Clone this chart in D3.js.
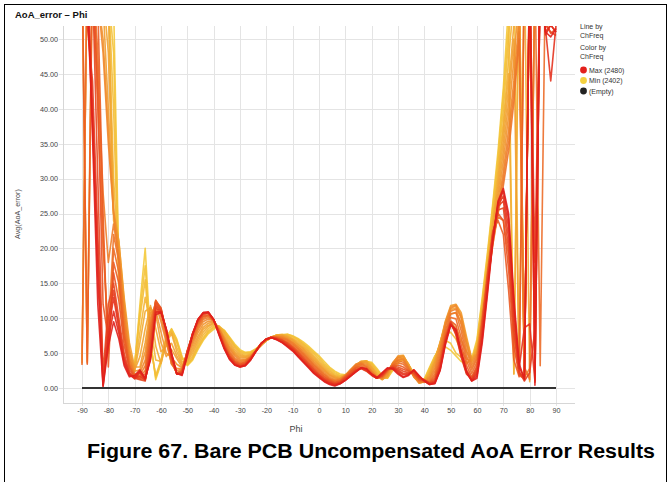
<!DOCTYPE html>
<html>
<head>
<meta charset="utf-8">
<script src="https://cdn.jsdelivr.net/npm/d3@7/dist/d3.min.js"></script>
<style>
  html, body { margin: 0; padding: 0; background: #fff; }
  svg { display: block; font-family: "Liberation Sans", Arial, sans-serif; }
</style>
</head>
<body>
<svg id="chart" width="669" height="482"></svg>
<script>
// Phi sample angles (degrees), -90 .. 90
const phi = [-90,-88,-86,-84,-82,-80,-78,-76,-74,-72,
  -70,-68,-66,-64,-62,-60,-58,-56,-54,-52,
  -50,-48,-46,-44,-42,-40,-38,-36,-34,-32,
  -30,-28,-26,-24,-22,-20,-18,-16,-14,-12,
  -10,-8,-6,-4,-2,0,2,4,6,8,
  10,12,14,16,18,20,22,24,26,28,
  30,32,34,36,38,40,42,44,46,48,
  50,52,54,56,58,60,62,64,66,68,
  70,72,74,76,78,80,82,84,86,88,
  90];

// Avg(AoA_error) per channel frequency (MHz)
const ch2402 = [60,58,62,64,60,58,55,17,9,3.5,
  3,12,20,7,1.2,3.5,7,8.5,7,4.5,
  3.2,4,5.5,6.8,7.8,8.4,8.8,8.3,7.3,6.3,
  5.5,5.1,5.2,5.6,6.2,6.8,7.2,7.5,7.6,7.7,
  7.5,7.1,6.6,6.0,5.3,4.6,3.8,3.0,2.4,2.0,
  1.9,2.1,2.8,3.4,3.8,3.7,2.8,1.8,1.4,2.5,
  3.6,4.0,3.3,2.2,1.2,1.3,3.0,4.6,5.6,5.9,
  5.4,4.6,3.8,3.5,4.2,7.0,13,19.5,26.5,34,
  43,55,61,60,2.2,60,62,60,61,60,
  61];
const ch2406 = [61,60,63,62,59,57,48,16,8,3.2,
  3.4,11,17.5,6.5,1.5,3.8,7.3,8.4,6.8,4.3,
  3.3,4.2,5.7,7.0,8.0,8.6,8.8,8.2,7.2,6.1,
  5.3,5.0,5.1,5.6,6.2,6.9,7.2,7.6,7.6,7.7,
  7.4,7.0,6.4,5.8,5.1,4.4,3.5,2.8,2.2,1.8,
  1.8,2.3,2.9,3.6,3.8,3.5,2.6,1.6,1.5,2.7,
  3.8,4.1,3.3,2.1,1.1,1.2,2.8,4.5,6.0,6.8,
  6.4,5.0,4.4,3.6,4.0,6.6,12.5,19,26,33,
  42,52,2.0,61,60,62,61,60,62,61,
  60];
const ch2410 = [62,60,63,62,58,57,40,14,7,3,
  3.5,10,15.5,6,1.8,4,7.5,8.2,6.5,4.2,
  3.4,4.3,5.9,7.2,8.2,8.8,8.9,8.2,7.1,6.0,
  5.2,4.8,5.0,5.5,6.2,6.9,7.3,7.6,7.7,7.6,
  7.3,6.9,6.3,5.6,4.9,4.1,3.3,2.6,2.0,1.7,
  1.8,2.3,3.0,3.6,3.9,3.4,2.4,1.5,1.4,2.8,
  3.9,4.3,3.4,2.0,1.0,1.1,2.6,4.4,6.2,7.6,
  8.0,7.0,5.4,4.2,3.8,6.2,12,18.5,25,32,
  40,50,62,2.6,61,62,60,62,61,60,
  62];
const ch2414 = [4.0,61,64,62,59,55,30,17,9,4,
  2.8,8,13,9,4,3.8,7,8,5.8,3.8,
  3.6,4.6,6.2,7.6,8.5,9.0,8.8,8.0,6.9,5.8,
  5.0,4.6,4.9,5.4,6.2,6.8,7.3,7.6,7.6,7.5,
  7.1,6.7,6.1,5.4,4.6,3.8,3.1,2.4,1.8,1.6,
  1.9,2.4,3.1,3.8,3.9,3.2,2.2,1.4,1.5,3.0,
  4.1,4.4,3.4,1.9,0.9,1.0,2.4,4.2,6.4,8.6,
  9.4,8.6,6.8,5.2,4.0,6.0,11.5,18,24,31,
  38,47,56,61,1.4,60,62,61,60,62,
  61];
const ch2420 = [60,3.8,65,63,60,56,24,20,12,5,
  2.5,6.5,11,11.5,6,3.5,6.5,7.8,5.2,3.5,
  3.8,5.0,6.6,8.0,8.8,9.2,8.8,7.8,6.6,5.5,
  4.8,4.5,4.8,5.4,6.1,6.8,7.3,7.6,7.6,7.4,
  7.0,6.5,5.9,5.2,4.4,3.6,2.9,2.2,1.7,1.5,
  1.8,2.5,3.2,3.8,3.9,3.0,2.0,1.3,1.6,3.2,
  4.3,4.6,3.4,1.8,0.8,1.0,2.2,4.0,6.6,9.0,
  10.6,10.8,9.4,6.6,4.0,5.6,11,17.5,23.5,30,
  37,45,2.0,60,62,0.9,60,61,60,62,
  61];
const ch2424 = [61,62,64,60,57,48,25,21,12.5,5.5,
  2.6,4.5,8.5,11.8,8.5,5.2,6.0,6.4,4.6,3.3,
  4.0,5.4,7.0,8.4,9.0,9.3,8.7,7.5,6.3,5.2,
  4.6,4.4,4.7,5.4,6.1,6.8,7.3,7.5,7.5,7.3,
  6.9,6.3,5.7,5.0,4.2,3.4,2.7,2.0,1.6,1.4,
  1.8,2.6,3.3,3.8,3.8,2.9,1.9,1.2,1.7,3.4,
  4.4,4.6,3.3,1.7,0.7,0.9,2.0,3.8,6.5,9.4,
  11.2,11.5,10.2,7.0,4.1,5.3,10.8,17,22.8,29,
  35.5,43,52,60,2.8,61,60,62,60,61,
  60];
const ch2428 = [62,60,62,58,55,40,25.5,21,13,6.5,
  3.0,3.0,6.5,11.5,10.5,6.5,4.5,5.5,4.2,3.0,
  4.3,5.8,7.4,8.7,9.3,9.4,8.6,7.3,6.0,5.0,
  4.4,4.3,4.6,5.3,6.1,6.8,7.3,7.5,7.5,7.2,
  6.8,6.2,5.6,4.8,4.0,3.3,2.6,1.9,1.5,1.4,
  1.8,2.6,3.3,3.8,3.7,2.7,1.7,1.2,1.8,3.5,
  4.6,4.7,3.3,1.7,0.7,0.9,1.8,3.6,6.4,9.6,
  11.8,12.0,10.8,7.4,4.2,5.0,10.5,16.5,22,28,
  34,41,50,1.8,60,62,60,61,60,62,
  60];
const ch2432 = [3.5,61,60,56,50,37,25,20,12,5.5,
  2.4,2.6,5.2,10.8,11.2,8.0,5.0,4.4,3.4,2.9,
  4.6,6.2,7.9,9.1,9.6,9.5,8.5,7.1,5.8,4.8,
  4.2,4.1,4.5,5.3,6.1,6.8,7.3,7.4,7.4,7.1,
  6.6,6.0,5.4,4.6,3.8,3.1,2.4,1.8,1.4,1.3,
  1.8,2.6,3.4,3.7,3.5,2.5,1.6,1.3,2.0,3.6,
  4.5,4.5,3.1,1.6,0.8,0.9,1.6,3.2,6.0,9.4,
  11.6,11.9,10.4,6.8,3.8,4.9,10.2,16,21.5,27,
  32.5,39,47,56,2.0,60,62,60,61,60,
  62];
const ch2438 = [61,3.6,60,56,48,35,25,19,11,4.5,
  2.0,2.2,4.0,10,12,9.5,6.5,3.5,2.8,2.8,
  4.8,6.6,8.3,9.5,9.9,9.6,8.5,7.0,5.6,4.6,
  4.0,4.0,4.5,5.3,6.2,6.9,7.3,7.4,7.3,7.0,
  6.5,5.9,5.2,4.4,3.6,2.9,2.2,1.6,1.2,1.3,
  1.8,2.6,3.4,3.6,3.3,2.4,1.6,1.4,2.2,3.6,
  4.4,4.2,3.0,1.6,0.8,0.9,1.4,2.8,5.6,9.2,
  11.4,11.8,10.0,6.2,3.4,4.8,10,15.5,21,26,
  31,37,44,53,2.4,60,62,60,61,60,
  62];
const ch2442 = [60,62,59,45,28,18,23.5,18.5,10,4,
  1.9,1.8,3.2,9.2,12.4,10.2,7.0,3.4,2.5,2.7,
  5.0,6.9,8.6,9.8,10.1,9.7,8.4,6.8,5.3,4.3,
  3.8,3.9,4.4,5.3,6.2,7.0,7.3,7.3,7.2,6.9,
  6.4,5.7,5.0,4.2,3.4,2.7,2.0,1.4,1.1,1.2,
  1.7,2.5,3.3,3.5,3.1,2.3,1.5,1.5,2.3,3.5,
  4.1,4.0,2.9,1.7,0.9,0.8,1.2,2.4,5.1,8.8,
  11.0,11.3,9.1,5.4,3.0,4.5,9.8,15.2,20.6,25.5,
  30,35.5,42.5,51,1.5,2.8,60,62,60,61,
  60];
const ch2446 = [60,62,58,40,20,8,22,18,9,3.5,
  1.8,1.6,2.5,8.5,12.5,11,7.5,3.5,2.2,2.6,
  5.2,7.2,8.9,10.0,10.3,9.7,8.3,6.6,5.1,4.1,
  3.6,3.8,4.4,5.3,6.3,7.0,7.3,7.3,7.1,6.8,
  6.2,5.6,4.9,4.1,3.3,2.6,1.9,1.3,1.0,1.1,
  1.7,2.5,3.2,3.4,3.0,2.2,1.5,1.5,2.4,3.4,
  3.9,3.7,2.8,1.8,1.0,0.9,1.0,2.0,4.6,8.2,
  10.6,10.8,8.2,4.6,2.6,4.2,9.5,15,20.5,25,
  29,34,41,50,3,1.2,60,62,60,61,
  60];
const ch2450 = [3.3,61,60,48,22,5,20,16.5,8,3.2,
  1.7,1.5,2.0,7.8,12.6,11.3,7.8,3.8,2.1,2.5,
  5.3,7.4,9.1,10.2,10.4,9.7,8.1,6.4,4.9,3.9,
  3.5,3.7,4.4,5.3,6.3,7.0,7.3,7.2,7.0,6.6,
  6.0,5.4,4.7,3.9,3.1,2.4,1.7,1.2,0.9,1.0,
  1.6,2.4,3.0,3.2,2.8,2.1,1.5,1.6,2.5,3.3,
  3.6,3.4,2.6,1.9,1.1,1.0,0.9,1.7,4.2,7.8,
  10.1,9.9,7.2,3.9,2.1,3.7,9.5,15.6,21.5,24.5,
  24,19,8,2.2,1.4,62,61,3.2,60,61,
  60];
const ch2456 = [62,3.4,62,55,25,3,18,15,7.5,3.0,
  1.6,1.4,1.6,7,12.5,11.5,8.0,4.0,2.0,2.4,
  5.4,7.6,9.3,10.3,10.5,9.6,8.0,6.2,4.7,3.8,
  3.4,3.6,4.3,5.3,6.3,7.0,7.3,7.2,6.9,6.5,
  5.9,5.2,4.5,3.7,2.9,2.2,1.6,1.1,0.8,1.0,
  1.6,2.3,2.9,3.0,2.6,2.0,1.5,1.7,2.6,3.2,
  3.3,3.0,2.5,2.0,1.2,1.0,0.8,1.4,3.8,7.4,
  9.6,9.0,6.2,3.2,1.6,3.2,9.5,16.5,22.5,24,
  22,14,4,1.6,60,62,2.0,60,61,60,
  60];
const ch2460 = [60,63,60,42,12,7,16.5,12.5,6.2,2.6,
  1.5,1.3,1.3,6.2,12.2,11.4,8.1,4.2,2.0,2.3,
  5.3,7.7,9.5,10.5,10.7,9.7,8.0,6.1,4.6,3.7,
  3.3,3.5,4.3,5.3,6.3,7.0,7.3,7.1,6.8,6.4,
  5.8,5.1,4.3,3.5,2.7,2.0,1.4,1.0,0.7,0.9,
  1.5,2.1,2.7,2.9,2.5,1.9,1.4,1.8,2.6,3.1,
  3.0,2.7,2.4,2.1,1.3,1.1,0.7,1.2,3.5,7.2,
  9.5,8.3,5.3,2.6,1.4,2.9,9.0,16,22.2,25,
  24,17,6,1.8,1.3,60,0.8,60,52.5,50.8,
  51.5];
const ch2464 = [61,63,58,30,2,12,15,10,5,2.2,
  1.4,1.2,1.0,5.5,11.8,11.2,8.2,4.4,2.0,2.2,
  5.2,7.8,9.6,10.6,10.8,9.8,8.0,6.0,4.5,3.6,
  3.2,3.4,4.2,5.3,6.3,7.0,7.3,7.1,6.8,6.3,
  5.7,5.0,4.2,3.4,2.6,1.9,1.3,0.9,0.6,0.8,
  1.4,2.0,2.6,2.8,2.4,1.8,1.4,1.8,2.6,3.0,
  2.8,2.4,2.2,2.2,1.4,1.2,0.7,1.0,3.2,7.0,
  9.4,7.6,4.4,2.0,1.3,2.6,8.5,15.5,22,25.5,
  25.8,20,8,2.0,1.5,60,18,60,52,51,
  50.5];
const ch2468 = [62,52,44,22,1.2,10,14,9.2,4.4,2.1,
  1.4,1.7,1.1,5.0,11.4,11.1,8.3,4.6,2.0,2.1,
  5.1,7.8,9.7,10.7,10.8,9.8,7.9,5.9,4.4,3.5,
  3.1,3.3,4.1,5.3,6.3,7.0,7.2,7.0,6.7,6.2,
  5.6,4.8,4.0,3.2,2.4,1.8,1.2,0.8,0.5,0.7,
  1.3,1.9,2.5,2.8,2.5,1.9,1.4,1.9,2.7,2.9,
  2.6,2.1,2.1,2.4,1.5,1.1,0.6,0.9,3.0,6.8,
  9.3,7.8,4.6,2.1,1.2,2.3,8.0,15,21.8,26,
  26.8,21.5,9.5,2.4,1.0,2.2,8.4,60,51,52,
  51];
const ch2472 = [62,60,40,19,0.5,8,13,8.5,4,2.0,
  1.3,2.2,1.2,4.5,11,11,8.5,4.8,2.0,2.0,
  5.0,7.8,9.8,10.7,10.8,9.8,7.8,5.8,4.3,3.4,
  3.1,3.3,4.1,5.3,6.4,7.0,7.2,7.0,6.6,6.1,
  5.5,4.7,3.9,3.1,2.3,1.7,1.1,0.7,0.5,0.7,
  1.2,1.8,2.4,2.9,2.6,1.9,1.4,2.0,2.8,2.9,
  2.4,1.9,2.0,2.5,1.6,1.1,0.6,0.8,2.8,6.6,
  9.2,8.0,4.8,2.2,1.1,2.0,7.5,14.5,21.5,26.2,
  27.5,23,11,2.8,8.6,9.2,1.0,60,51.5,44,
  52];
const ch2476 = [60,55,38,16,0.3,7,11,7.8,3.6,1.8,
  1.5,2.4,1.3,4.2,10.8,10.9,8.4,4.9,2.0,1.9,
  4.8,7.7,9.8,10.8,10.8,9.8,7.7,5.7,4.2,3.3,
  3.0,3.2,4.0,5.2,6.4,7.0,7.2,6.9,6.5,6.0,
  5.4,4.6,3.8,3.0,2.2,1.6,1.0,0.6,0.4,0.6,
  1.1,1.7,2.3,2.9,2.7,1.9,1.4,2.1,2.8,2.8,
  2.2,1.6,1.9,2.6,1.7,1.0,0.5,0.7,2.6,6.4,
  9.1,8.2,5.0,2.3,1.0,1.7,7.0,14,21.2,26.5,
  28.2,24.2,12,3.0,1.4,60,9.4,60,50.6,52,
  51];
const ch2480 = [61,58,36,12,0.2,6,9.5,7,3.2,1.6,
  1.8,2.6,1.4,4,10.5,10.8,8.4,5.0,2.1,1.8,
  4.6,7.6,9.8,10.8,10.9,9.8,7.6,5.6,4.1,3.3,
  3.0,3.2,4.0,5.2,6.4,7.0,7.2,6.9,6.5,5.9,
  5.3,4.5,3.7,2.9,2.1,1.5,0.9,0.5,0.3,0.6,
  1.1,1.7,2.3,2.9,2.8,2.0,1.5,2.2,2.9,2.7,
  2.0,1.5,1.8,2.6,1.8,1.0,0.5,0.6,2.5,6.2,
  9.0,8.4,5.2,2.4,1.0,1.4,6.5,13.5,21,26.8,
  28.6,25,13,3.5,1.2,62,0.4,60,51,50.3,
  51.5];

const channels = [2402, 2406, 2410, 2414, 2420, 2424, 2428, 2432, 2438, 2442,
  2446, 2450, 2456, 2460, 2464, 2468, 2472, 2476, 2480];
const channelValues = [ch2402, ch2406, ch2410, ch2414, ch2420, ch2424, ch2428, ch2432, ch2438, ch2442,
  ch2446, ch2450, ch2456, ch2460, ch2464, ch2468, ch2472, ch2476, ch2480];

// "(Empty)" baseline series
const emptyPhi = [-90, 90];
const emptyValues = [0, 0];

const xTicks = [-90,-80,-70,-60,-50,-40,-30,-20,-10,0,10,20,30,40,50,60,70,80,90];
const yTicks = [0,5,10,15,20,25,30,35,40,45,50];

const legendItems = [
  { label: "Max (2480)", color: "#e3201c" },
  { label: "Min (2402)", color: "#f4d13f" },
  { label: "(Empty)", color: "#222222" }
];

const svg = d3.select("#chart");

// outer frame
svg.append("rect")
  .attr("x", 4.5).attr("y", 4.5)
  .attr("width", 662).attr("height", 480)
  .attr("fill", "none").attr("stroke", "#000").attr("stroke-width", 1);

svg.append("text")
  .attr("x", 15).attr("y", 17.5)
  .attr("font-size", 9.5).attr("font-weight", "bold").attr("fill", "#111")
  .text("AoA_error \u2013 Phi");

const plot = { left: 63, right: 575, top: 26, bottom: 403 };

const x = d3.scaleLinear().domain([-90, 90]).range([82, 556]);
const y = d3.scaleLinear().domain([0, 50]).range([388, 39]);

// grid
const grid = svg.append("g");
grid.selectAll("line.h").data(yTicks).join("line")
  .attr("x1", 59).attr("x2", plot.right)
  .attr("y1", d => Math.round(y(d)) + 0.5).attr("y2", d => Math.round(y(d)) + 0.5)
  .attr("stroke", "#e4e4e4").attr("stroke-width", 1);
grid.selectAll("line.v").data(xTicks).join("line")
  .attr("y1", plot.top).attr("y2", plot.bottom + 3)
  .attr("x1", d => Math.round(x(d)) + 0.5).attr("x2", d => Math.round(x(d)) + 0.5)
  .attr("stroke", "#e4e4e4").attr("stroke-width", 1);

// axis frame lines
svg.append("line")
  .attr("x1", plot.left + 0.5).attr("x2", plot.left + 0.5)
  .attr("y1", plot.top).attr("y2", plot.bottom)
  .attr("stroke", "#d6d6d6");
svg.append("line")
  .attr("x1", plot.left).attr("x2", plot.right)
  .attr("y1", plot.bottom + 0.5).attr("y2", plot.bottom + 0.5)
  .attr("stroke", "#d6d6d6");

// axes
const yAxis = d3.axisLeft(y).tickValues(yTicks).tickFormat(d3.format(".2f")).tickSize(0).tickPadding(0);
const yg = svg.append("g").attr("transform", "translate(58,0)").call(yAxis);
yg.select(".domain").remove();
yg.selectAll("text").attr("font-size", 7.2).attr("fill", "#444").attr("font-family", "Liberation Sans, Arial, sans-serif");

const xAxis = d3.axisBottom(x).tickValues(xTicks).tickFormat(d3.format("d")).tickSize(0).tickPadding(0);
const xg = svg.append("g").attr("transform", "translate(0,408)").call(xAxis);
xg.select(".domain").remove();
xg.selectAll("text").attr("font-size", 7.2).attr("fill", "#444").attr("font-family", "Liberation Sans, Arial, sans-serif")
  .text(d => d < 0 ? "-" + Math.abs(d) : d);

svg.append("text")
  .attr("x", 296).attr("y", 432).attr("text-anchor", "middle")
  .attr("font-size", 9).attr("fill", "#444").text("Phi");

svg.append("text")
  .attr("transform", "translate(20,214) rotate(-90)")
  .attr("text-anchor", "middle")
  .attr("font-size", 7.2).attr("fill", "#444").text("Avg(AoA_error)");

// series lines, clipped to the plot area
svg.append("clipPath").attr("id", "plotClip")
  .append("rect")
  .attr("x", plot.left).attr("y", plot.top)
  .attr("width", plot.right - plot.left).attr("height", plot.bottom - plot.top);

const color = d3.scaleLinear()
  .domain([2402, 2430, 2455, 2480])
  .range(["#f4c93a", "#f19a30", "#eb5f25", "#e01f1c"]);

const line = d3.line().x(d => x(d[0])).y(d => y(d[1]));

const lines = svg.append("g").attr("clip-path", "url(#plotClip)");
channels.forEach((f, k) => {
  const pts = phi.map((p, i) => [p, channelValues[k][i]]);
  lines.append("path")
    .datum(pts)
    .attr("d", line)
    .attr("fill", "none")
    .attr("stroke", color(f))
    .attr("stroke-width", 1.6)
    .attr("stroke-linejoin", "round")
    .attr("stroke-opacity", 0.9);
});

lines.append("path")
  .datum(emptyPhi.map((p, i) => [p, emptyValues[i]]))
  .attr("d", line)
  .attr("fill", "none").attr("stroke", "#333").attr("stroke-width", 2);

// legend
const lg = svg.append("g").attr("font-size", 7).attr("fill", "#333");
lg.append("text").attr("x", 580).attr("y", 29).text("Line by");
lg.append("text").attr("x", 580).attr("y", 38).text("ChFreq");
lg.append("text").attr("x", 580).attr("y", 50).text("Color by");
lg.append("text").attr("x", 580).attr("y", 59).text("ChFreq");
const li = lg.selectAll("g.item").data(legendItems).join("g")
  .attr("transform", (d, i) => `translate(0,${70 + i * 10.5})`);
li.append("circle").attr("cx", 583.5).attr("cy", 0).attr("r", 3.4).attr("fill", d => d.color);
li.append("text").attr("x", 589).attr("y", 2.5).text(d => d.label);

// caption
svg.append("text")
  .attr("x", 87).attr("y", 458)
  .attr("font-size", 20).attr("font-weight", "bold").attr("fill", "#000")
  .attr("textLength", 568).attr("lengthAdjust", "spacingAndGlyphs")
  .text("Figure 67. Bare PCB Uncompensated AoA Error Results");
</script>
</body>
</html>
